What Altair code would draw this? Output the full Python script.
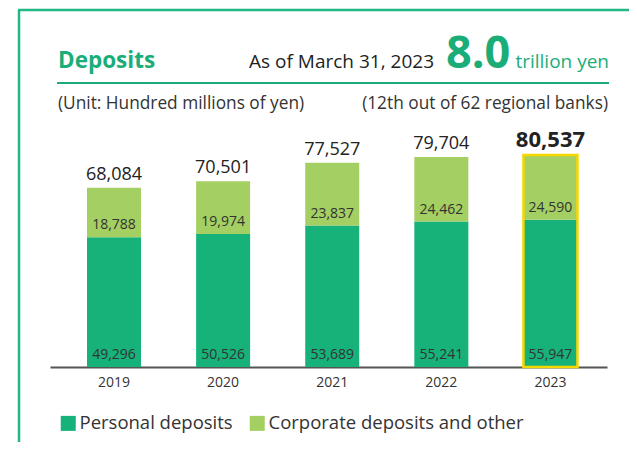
import altair as alt
import pandas as pd

# ---- data ----
years = ["2019", "2020", "2021", "2022", "2023"]
personal = [49296, 50526, 53689, 55241, 55947]
corporate = [18788, 19974, 23837, 24462, 24590]
totals = [68084, 70501, 77527, 79704, 80537]
series = ["Personal deposits", "Corporate deposits and other"]
highlight_year = "2023"

# ---- style ----
DARK = "#16b27a"
LIGHT = "#a4cf62"
TITLE_GREEN = "#1bad78"
FRAME = "#22b886"
YELLOW = "#f5d800"
TXT = "#333333"
FONT = "Open Sans"

rows = []
for i, y in enumerate(years):
    rows.append({"year": y, "type": series[0], "lo": 0, "hi": personal[i],
                 "label": f"{personal[i]:,}"})
    rows.append({"year": y, "type": series[1], "lo": personal[i],
                 "hi": personal[i] + corporate[i], "label": f"{corporate[i]:,}"})
long_df = pd.DataFrame(rows)

tot_df = pd.DataFrame({
    "year": years,
    "total": totals,
    "zero": [0] * len(years),
    "label": [f"{t:,}" for t in totals],
    "hl": [y == highlight_year for y in years],
})

one = pd.DataFrame({"a": [0]})

x_enc = alt.X(
    "year:N",
    sort=years,
    scale=alt.Scale(paddingInner=0.505, paddingOuter=0.305, align=0.556),
    axis=alt.Axis(title=None, labelAngle=0, ticks=False, labelFontSize=14,
                  labelColor=TXT, labelFont=FONT, labelPadding=8,
                  domainColor="#555555", domainWidth=2, grid=False),
)
y_scale = alt.Scale(domain=[0, 90000], nice=False)

bars = alt.Chart(long_df).mark_bar().encode(
    x=x_enc,
    y=alt.Y("lo:Q", scale=y_scale, axis=None),
    y2="hi:Q",
    color=alt.Color(
        "type:N",
        scale=alt.Scale(domain=series, range=[DARK, LIGHT]),
        legend=alt.Legend(
            title=None, orient="none", legendX=9, legendY=284,
            direction="horizontal", symbolType="square", symbolSize=225,
            symbolStrokeWidth=0, labelFontSize=18.5, labelFont=FONT,
            labelColor=TXT, labelOffset=2, columnPadding=15, padding=0,
            labelLimit=400,
        ),
    ),
)

inner_labels = alt.Chart(long_df).mark_text(
    baseline="middle", dy=-12, fontSize=14, font=FONT, color=TXT
).encode(
    x=alt.X("year:N", sort=years),
    y=alt.Y("lo:Q", scale=y_scale),
    text="label:N",
)

border = alt.Chart(tot_df).transform_filter("datum.hl").mark_bar(
    fillOpacity=0, stroke=YELLOW, strokeWidth=2.5
).encode(
    x=alt.X("year:N", sort=years),
    y=alt.Y("zero:Q", scale=y_scale),
    y2="total:Q",
)

total_labels = alt.Chart(tot_df).transform_filter("!datum.hl").mark_text(
    baseline="middle", dy=-13, fontSize=18, font=FONT, color="#222222"
).encode(
    x=alt.X("year:N", sort=years),
    y=alt.Y("total:Q", scale=y_scale),
    text="label:N",
)

total_hl = alt.Chart(tot_df).transform_filter("datum.hl").mark_text(
    baseline="middle", dy=-15, fontSize=22, fontWeight="bold", font=FONT,
    color="#222222"
).encode(
    x=alt.X("year:N", sort=years),
    y=alt.Y("total:Q", scale=y_scale),
    text="label:N",
)

# ---- header / frame decorations ----
frame_left = alt.Chart(one).mark_rule(color=FRAME, strokeWidth=2.5).encode(
    x=alt.value(-31), y=alt.value(-120), y2=alt.value(320)
)
frame_top = alt.Chart(one).mark_rule(color=FRAME, strokeWidth=2.5).encode(
    x=alt.value(-32), x2=alt.value(600), y=alt.value(-120)
)
underline = alt.Chart(one).mark_rule(color=TITLE_GREEN, strokeWidth=2).encode(
    x=alt.value(7), x2=alt.value(559), y=alt.value(-47)
)

title = alt.Chart(one).mark_text(
    text="Deposits", x=8, y=-62, align="left", baseline="alphabetic",
    font=FONT, fontSize=22.5, fontWeight="bold", color=TITLE_GREEN
)
asof = alt.Chart(one).mark_text(
    text="As of March 31, 2023", x=384, y=-62, align="right",
    baseline="alphabetic", font=FONT, fontSize=19, color="#222222"
)
big = alt.Chart(one).mark_text(
    text="8.0", x=396, y=-62, align="left", baseline="alphabetic",
    font=FONT, fontSize=45, fontWeight="bold", color=TITLE_GREEN
)
unit_big = alt.Chart(one).mark_text(
    text="trillion yen", x=559, y=-62, align="right", baseline="alphabetic",
    font=FONT, fontSize=19, color=TITLE_GREEN
)
sub_left = alt.Chart(one).mark_text(
    text="(Unit: Hundred millions of yen)", x=8, y=-21, align="left",
    baseline="alphabetic", font=FONT, fontSize=17.3, color=TXT
)
sub_right = alt.Chart(one).mark_text(
    text="(12th out of 62 regional banks)", x=558, y=-21, align="right",
    baseline="alphabetic", font=FONT, fontSize=17.3, color=TXT
)

chart = alt.layer(
    frame_left, frame_top, underline, title, asof, big, unit_big,
    sub_left, sub_right,
    bars, border, inner_labels, total_labels, total_hl,
).properties(
    width=557, height=237,
    autosize=alt.AutoSizeParams(type="none"),
    padding={"left": 42, "top": 122, "right": 22, "bottom": 75},
    background="white",
).configure_view(stroke=None)

chart.save("out.html", embed_options={"renderer": "svg", "actions": False})
